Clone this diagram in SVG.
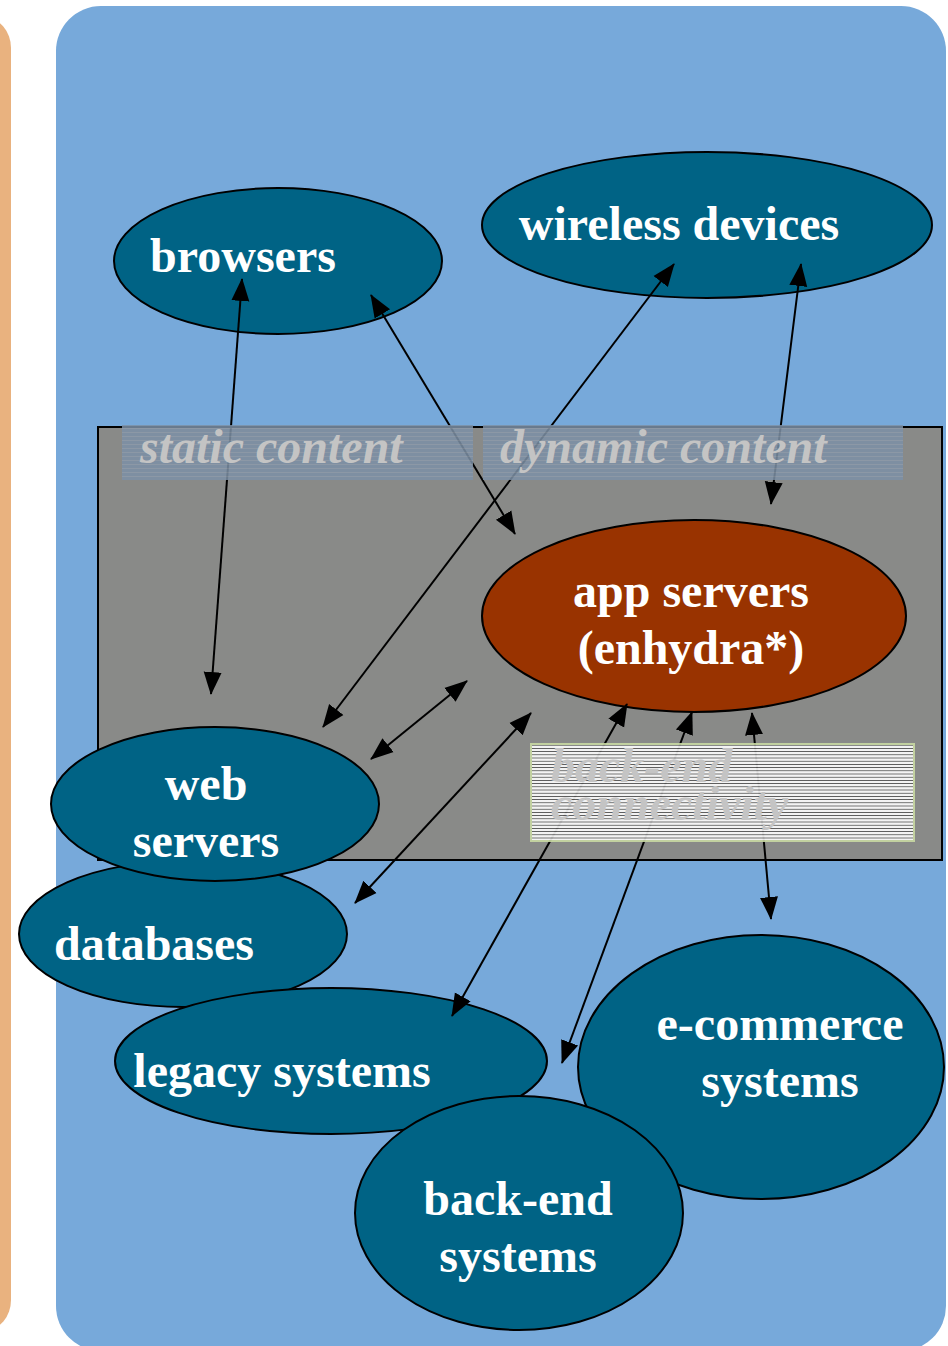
<svg xmlns="http://www.w3.org/2000/svg" width="948" height="1346" viewBox="0 0 948 1346">
<style>
.node{fill:#006385;stroke:#000;stroke-width:2}
.app{fill:#993300;stroke:#000;stroke-width:2}
.t{font-family:"Liberation Serif","Times New Roman",serif;font-weight:bold;font-size:48px;fill:#fff;text-anchor:middle}
.lbl{font-family:"Liberation Serif","Times New Roman",serif;font-weight:bold;font-style:italic;font-size:48px;fill:#c4c4c4}
.c{stroke:#000;stroke-width:2;fill:none;marker-start:url(#ah);marker-end:url(#ah)}
</style>
<defs>
<marker id="ah" markerUnits="userSpaceOnUse" markerWidth="24" markerHeight="20" refX="22" refY="10" orient="auto-start-reverse" viewBox="0 0 24 20">
<path d="M0,1 L23,10 L0,19 Z" fill="#000"/>
</marker>
<pattern id="band" patternUnits="userSpaceOnUse" width="10" height="4">
<rect width="10" height="4" fill="#7c90a6"/>
<rect y="0" width="10" height="1" fill="#8d9bab"/>
</pattern>
<pattern id="wl" patternUnits="userSpaceOnUse" width="10" height="3.2">
<rect width="10" height="3.2" fill="#fff"/>
<rect y="2.4" width="10" height="0.8" fill="#444"/>
</pattern>
</defs>
<rect x="-40" y="18" width="51" height="1312" rx="30" fill="#e9b27f"/>
<rect x="56" y="6" width="890" height="1345" rx="45" fill="#77a9da"/>
<rect x="98" y="427" width="844" height="433" fill="#898a88" stroke="#000" stroke-width="2"/>
<g id="databases"><ellipse class="node" cx="183" cy="934" rx="164" ry="73"/><text class="t" x="154" y="960">databases</text></g>
<g id="web-servers"><ellipse class="node" cx="215" cy="804" rx="164" ry="77"/><text class="t" x="206" y="800">web</text><text class="t" x="206" y="857">servers</text></g>
<g id="browsers"><ellipse class="node" cx="278" cy="261" rx="164" ry="73"/><text class="t" x="243" y="272">browsers</text></g>
<g id="wireless-devices"><ellipse class="node" cx="707" cy="225" rx="225" ry="73"/><text class="t" x="679" y="240">wireless devices</text></g>
<g id="app-servers"><ellipse class="app" cx="694" cy="616" rx="212" ry="96"/><text class="t" x="691" y="607">app servers</text><text class="t" x="691" y="664">(enhydra*)</text></g>
<g id="legacy-systems"><ellipse class="node" cx="331" cy="1061" rx="216" ry="73"/><text class="t" x="282" y="1087">legacy systems</text></g>
<g id="e-commerce-systems"><ellipse class="node" cx="761" cy="1067" rx="183" ry="132"/><text class="t" x="780" y="1040">e-commerce</text><text class="t" x="780" y="1097">systems</text></g>
<g id="back-end-systems"><ellipse class="node" cx="519" cy="1213" rx="164" ry="117"/><text class="t" x="518" y="1215">back-end</text><text class="t" x="518" y="1272">systems</text></g>
<g id="connectors">
<line class="c" x1="242" y1="279" x2="211" y2="694"/>
<line class="c" x1="371" y1="295" x2="515" y2="534"/>
<line class="c" x1="674" y1="264" x2="323" y2="727"/>
<line class="c" x1="801" y1="264" x2="771" y2="504"/>
<line class="c" x1="467" y1="681" x2="371" y2="759"/>
<line class="c" x1="531" y1="713" x2="355" y2="903"/>
<line class="c" x1="627" y1="704" x2="452" y2="1016"/>
<line class="c" x1="692" y1="712" x2="562" y2="1063"/>
<line class="c" x1="752" y1="713" x2="771" y2="919"/>
</g>
<g id="static-content">
<rect x="122" y="425" width="351" height="55" fill="url(#band)" opacity="0.85"/>
<text class="lbl" x="140" y="463">static content</text>
</g>
<g id="dynamic-content">
<rect x="483" y="425" width="420" height="55" fill="url(#band)" opacity="0.85"/>
<text class="lbl" x="500" y="463">dynamic content</text>
</g>
<g id="back-end-connectivity">
<rect x="531" y="744" width="383" height="97" fill="url(#wl)" opacity="0.9" stroke="#c9d9a3" stroke-width="2"/>
<text class="lbl" x="551" y="782" font-size="46" fill="#c8c8c8">back-end</text>
<text class="lbl" x="551" y="820" font-size="46" fill="#c8c8c8">connectivity</text>
</g>
</svg>
